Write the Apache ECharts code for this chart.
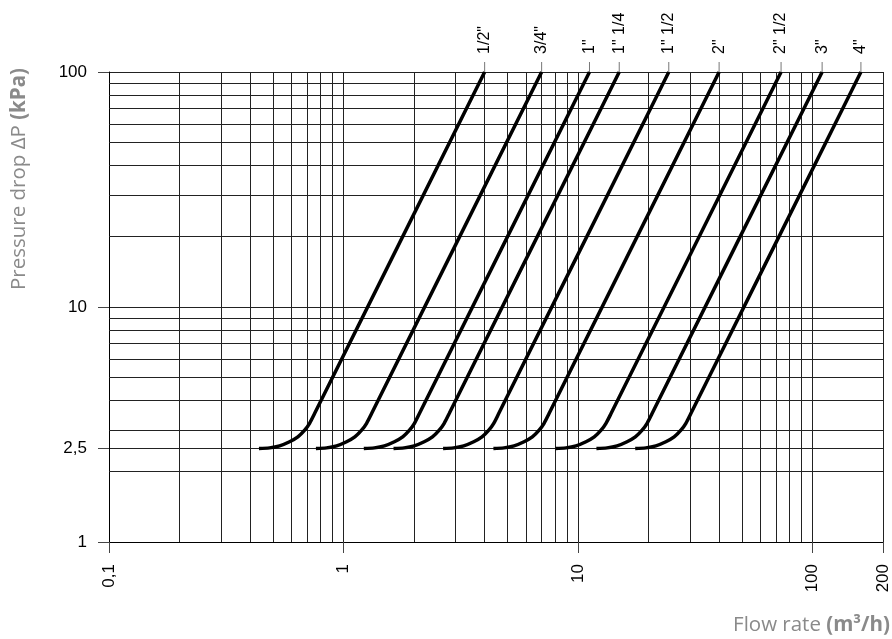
<!DOCTYPE html>
<html lang="en">
<head>
    <meta charset="UTF-8">
    <title>Pressure drop</title>
    <script src="https://cdn.jsdelivr.net/npm/echarts@6/dist/echarts.min.js"></script>
    <style>
        html, body { margin: 0; padding: 0; background: #fff; }
        #chart { width: 892px; height: 639px; }
    </style>
</head>
<body>
<div id="chart"></div>
<script>
    // axis ticks and grid lines
    var flowTicks = [0.1, 1, 10, 100, 200];
    var dpTicks = [1, 2.5, 10, 100];
    var flowMinor = [0.2, 0.3, 0.4, 0.5, 0.6, 0.7, 0.8, 0.9, 2, 3, 4, 5, 6, 7, 8, 9, 20, 30, 40, 50, 60, 70, 80, 90];
    var dpMinor = [2, 3, 4, 5, 6, 7, 8, 9, 20, 30, 40, 50, 60, 70, 80, 90];

    // valve sizes
    var sizes = ['1/2"', '3/4"', '1"', '1" 1/4', '1" 1/2', '2"', '2" 1/2', '3"', '4"'];

    // pressure drop (kPa)
    var curveDp = [2.5, 2.515, 2.565, 2.67, 2.8, 2.99, 3.2, 3.52, 100];

    // flow rate (m3/h) for each curve at the points above
    var q12   = [0.436, 0.484, 0.534, 0.589, 0.639, 0.683, 0.717, 0.753, 4];
    var q34   = [0.763, 0.847, 0.935, 1.031, 1.118, 1.195, 1.255, 1.318, 7];
    var q1    = [1.221, 1.355, 1.495, 1.649, 1.789, 1.912, 2.008, 2.108, 11.2];
    var q114  = [1.635, 1.815, 2.003, 2.209, 2.396, 2.561, 2.689, 2.824, 15];
    var q112  = [2.66, 2.952, 3.257, 3.593, 3.898, 4.166, 4.374, 4.593, 24.4];
    var q2    = [4.36, 4.84, 5.34, 5.89, 6.39, 6.83, 7.17, 7.53, 40];
    var q212  = [8.01, 8.89, 9.81, 10.82, 11.74, 12.55, 13.17, 13.84, 73.5];
    var q3    = [11.99, 13.31, 14.69, 16.2, 17.57, 18.78, 19.72, 20.71, 110];
    var q4    = [17.55, 19.48, 21.49, 23.71, 25.72, 27.49, 28.86, 30.31, 161];
    var flows = [q12, q34, q1, q114, q112, q2, q212, q3, q4];

    var tickFont = 'Liberation Sans, Arial, sans-serif';
    var titleFont = 'Open Sans, sans-serif';
    var gridColor = '#222';

    function commaNum(v) {
        return String(v).replace('.', ',');
    }

    var series = sizes.map(function (name, i) {
        var q = flows[i];
        return {
            type: 'line',
            name: name,
            symbol: 'circle',
            symbolSize: 0.1,
            showSymbol: true,
            smooth: 0.3,
            z: 5,
            itemStyle: { color: '#000' },
            lineStyle: { color: '#000', width: 3.5 },
            label: {
                show: false,
                position: 'top',
                distance: 0,
                rotate: 90,
                align: 'left',
                verticalAlign: 'middle',
                formatter: function (p) {
                    return '{l|}{t|' + p.seriesName + '}';
                },
                rich: {
                    l: { width: 10, height: 1, backgroundColor: '#777' },
                    t: { fontFamily: tickFont, fontSize: 16, color: '#000', padding: [0, 0, 0, 8] }
                }
            },
            data: q.map(function (x, j) {
                if (j === q.length - 1) {
                    return { value: [x, curveDp[j]], label: { show: true } };
                }
                return [x, curveDp[j]];
            })
        };
    });

    // minor grid lines
    series.unshift({
        type: 'line',
        name: 'grid',
        data: [],
        z: 1,
        silent: true,
        markLine: {
            silent: true,
            symbol: ['none', 'none'],
            animation: false,
            label: { show: false },
            lineStyle: { color: gridColor, width: 1, type: 'solid' },
            emphasis: { disabled: true },
            data: flowMinor.map(function (v) { return { xAxis: v }; })
                .concat(dpMinor.map(function (v) { return { yAxis: v }; }))
        }
    });

    var chart = echarts.init(document.getElementById('chart'));
    chart.setOption({
        animation: false,
        backgroundColor: '#fff',
        grid: { left: 109, right: 9, top: 72, bottom: 97, outerBoundsMode: 'none' },
        xAxis: {
            type: 'log',
            logBase: 10,
            min: 0.1,
            max: 200,
            axisLine: { lineStyle: { color: '#000', width: 1 } },
            axisTick: { show: true, length: 11, customValues: flowTicks, lineStyle: { color: '#444' } },
            axisLabel: {
                customValues: flowTicks,
                rotate: 90,
                margin: 22,
                fontFamily: tickFont,
                fontSize: 17,
                color: '#000',
                formatter: commaNum
            },
            splitLine: { show: true, lineStyle: { color: gridColor, width: 1 } }
        },
        yAxis: {
            type: 'log',
            logBase: 10,
            min: 1,
            max: 100,
            axisLine: { show: true, lineStyle: { color: '#000', width: 1 } },
            axisTick: { show: true, length: 11, customValues: dpTicks, lineStyle: { color: '#444' } },
            axisLabel: {
                customValues: dpTicks,
                margin: 22,
                fontFamily: tickFont,
                fontSize: 17,
                color: '#000',
                formatter: commaNum
            },
            splitLine: { show: true, lineStyle: { color: gridColor, width: 1 } }
        },
        graphic: [
            {
                type: 'text',
                x: 19,
                y: 179,
                rotation: Math.PI / 2,
                style: {
                    text: '{n|Pressure drop \u0394P }{b|(kPa)}',
                    align: 'center',
                    verticalAlign: 'middle',
                    rich: {
                        n: { fontFamily: titleFont, fontSize: 20.5, fill: '#8a8a8a' },
                        b: { fontFamily: titleFont, fontSize: 20.5, fontWeight: 'bold', fill: '#8a8a8a' }
                    }
                }
            },
            {
                type: 'text',
                x: 890,
                y: 625,
                style: {
                    text: '{n|Flow rate }{b|(m\u00b3/h)}',
                    align: 'right',
                    verticalAlign: 'middle',
                    rich: {
                        n: { fontFamily: titleFont, fontSize: 20.5, fill: '#8a8a8a' },
                        b: { fontFamily: titleFont, fontSize: 20.5, fontWeight: 'bold', fill: '#8a8a8a' }
                    }
                }
            }
        ],
        series: series
    });
</script>
</body>
</html>
